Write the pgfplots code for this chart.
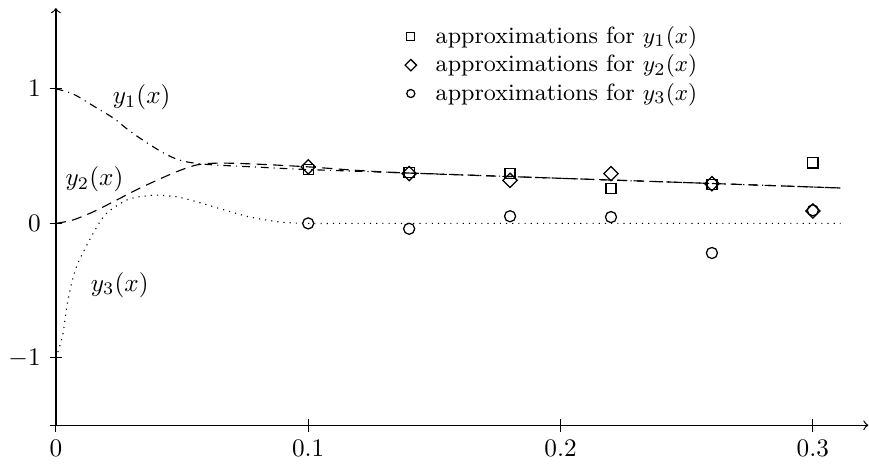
\documentclass[border=0pt]{standalone}
\usepackage{pgfplots}
\pgfplotsset{compat=1.18}
\begin{document}
\begin{tikzpicture}
\begin{axis}[
  scale only axis, width=322pt, height=165.33pt,
  xmin=0, xmax=0.322, ymin=-1.5, ymax=1.6,
  axis lines=left,
  axis line style={->, line width=0.5pt},
  xtick={0,0.1,0.2,0.3},
  ytick={-1,0,1},
  extra y ticks={-1.5}, extra y tick labels={},
  tick align=center,
  major tick length=5pt,
  tick style={black, line width=0.4pt},
  xticklabel style={/pgf/number format/fixed},
  legend style={draw=none, fill=none, at={(axis cs:0.1352,1.543)}, anchor=north west,
    font=\fontsize{9.3}{11}\selectfont, column sep=5.6pt, row sep=-1pt},
  legend image post style={mark size=1.6pt},
  legend cell align=left,
  clip=false,
]
% curves
\addplot[black, line width=0.45pt, dashdotted, smooth, forget plot] coordinates {
 (0,1) (0.007,0.96) (0.016,0.86) (0.023,0.78) (0.029,0.69) (0.036,0.60) (0.043,0.52)
 (0.049,0.47) (0.056,0.445) (0.065,0.432) (0.08,0.418) (0.1,0.40) (0.15,0.368)
 (0.2,0.335) (0.25,0.303) (0.311,0.263)};
\addplot[black, line width=0.45pt, dash pattern=on 4pt off 2.5pt, smooth, forget plot] coordinates {
 (0,0) (0.0067,0.025) (0.0147,0.085) (0.0227,0.16) (0.032,0.25) (0.04,0.32) (0.048,0.385)
 (0.056,0.435) (0.065,0.448) (0.08,0.44) (0.1,0.42) (0.12,0.393) (0.14,0.374)
 (0.2,0.335) (0.25,0.303) (0.311,0.263)};
\addplot[black, line width=0.45pt, dotted, smooth, forget plot] coordinates {
 (0,-1) (0.0027,-0.83) (0.0047,-0.58) (0.008,-0.33) (0.0147,-0.077) (0.02,0.073)
 (0.028,0.173) (0.034,0.2) (0.04,0.21) (0.048,0.197) (0.056,0.16) (0.0667,0.10)
 (0.077,0.047) (0.089,0.01) (0.1,0) (0.12,0) (0.2,0) (0.311,0)};
% approximations
\addplot[black, only marks, mark=square, mark size=2pt, mark options={line width=0.5pt}] coordinates {
 (0.1,0.40) (0.14,0.38) (0.18,0.37) (0.22,0.257) (0.26,0.287) (0.3,0.45)};
\addlegendentry{approximations for $y_1(x)$}
\addplot[black, only marks, mark=square, mark size=2pt, mark options={rotate=45, line width=0.5pt}] coordinates {
 (0.1,0.42) (0.14,0.37) (0.18,0.32) (0.22,0.37) (0.26,0.295) (0.3,0.092)};
\addlegendentry{approximations for $y_2(x)$}
\addplot[black, only marks, mark=o, mark size=2.2pt, mark options={line width=0.5pt}] coordinates {
 (0.1,0.0) (0.14,-0.04) (0.18,0.053) (0.22,0.047) (0.26,-0.22) (0.3,0.097)};
\addlegendentry{approximations for $y_3(x)$}
\node at (axis cs:0.034,0.935) {$y_1(x)$};
\node at (axis cs:0.0153,0.33) {$y_2(x)$};
\node at (axis cs:0.0253,-0.457) {$y_3(x)$};
\path ([yshift=3.2pt]axis cs:0,1.6) -- (axis cs:0,1.6);
\end{axis}
\end{tikzpicture}
\end{document}
